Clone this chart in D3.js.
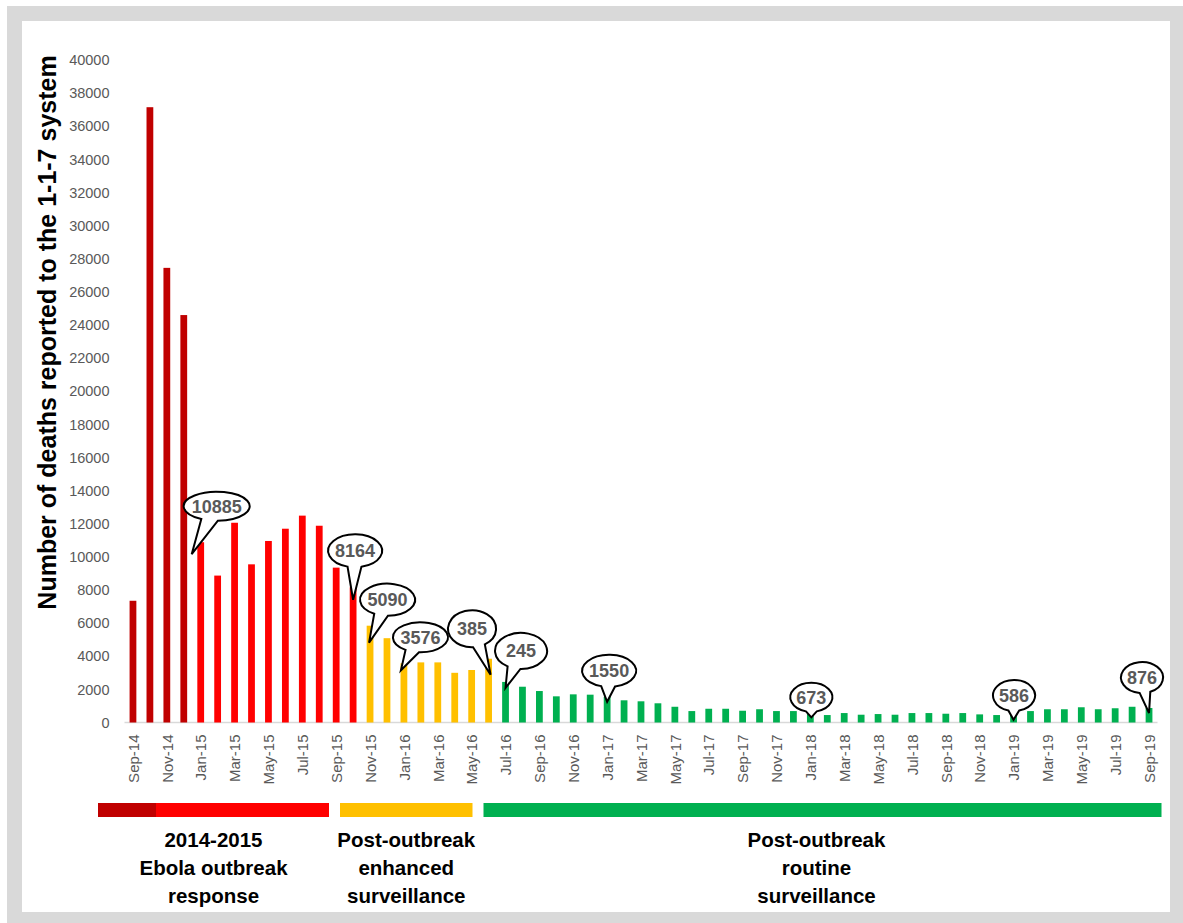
<!DOCTYPE html>
<html>
<head>
<meta charset="utf-8">
<script src="https://cdn.jsdelivr.net/npm/d3@7"></script>
<style>
  html, body { margin: 0; padding: 0; background: #ffffff; }
  svg { display: block; font-family: "Liberation Sans", Arial, sans-serif; }
</style>
</head>
<body>
<svg id="chart" width="1183" height="923"></svg>
<script>
// Monthly deaths reported to the 1-1-7 system, Sep 2014 – Sep 2019
const months = [
  "Sep-14","Oct-14","Nov-14","Dec-14",
  "Jan-15","Feb-15","Mar-15","Apr-15","May-15","Jun-15","Jul-15","Aug-15","Sep-15","Oct-15","Nov-15","Dec-15",
  "Jan-16","Feb-16","Mar-16","Apr-16","May-16","Jun-16","Jul-16","Aug-16","Sep-16","Oct-16","Nov-16","Dec-16",
  "Jan-17","Feb-17","Mar-17","Apr-17","May-17","Jun-17","Jul-17","Aug-17","Sep-17","Oct-17","Nov-17","Dec-17",
  "Jan-18","Feb-18","Mar-18","Apr-18","May-18","Jun-18","Jul-18","Aug-18","Sep-18","Oct-18","Nov-18","Dec-18",
  "Jan-19","Feb-19","Mar-19","Apr-19","May-19","Jun-19","Jul-19","Aug-19","Sep-19"
];

const deaths = [
  7350, 37150, 27450, 24600,
  10885, 8870, 12060, 9550, 10960, 11700, 12490, 11880, 9350, 8164, 5845, 5090,
  3576, 3630, 3630, 3000, 3170, 3850, 2450, 2160, 1900, 1580, 1700, 1680,
  1550, 1340, 1280, 1160, 950, 690, 830, 830, 710, 800, 690, 690,
  673, 450, 570, 470, 510, 470, 570, 570, 530, 570, 490, 450,
  586, 690, 800, 800, 920, 800, 860, 950, 876
];

// Reporting phases (first and last month of each)
const phaseStart = ["Sep-14", "Jan-15", "Nov-15", "Jul-16"];
const phaseEnd   = ["Dec-14", "Oct-15", "Jun-16", "Sep-19"];

// Captions under the phase strip
const phaseCaptions = [
  ["2014-2015", "Ebola outbreak", "response"],
  ["Post-outbreak", "enhanced", "surveillance"],
  ["Post-outbreak", "routine", "surveillance"]
];

// Annotated months and their callout text
const calloutMonths = ["Jan-15","Oct-15","Nov-15","Jan-16","Jun-16","Jul-16","Jan-17","Jan-18","Jan-19","Sep-19"];
const calloutTexts  = ["10885","8164","5090","3576","385","245","1550","673","586","876"];

// Axis tick labels
const yTicks = [0,2000,4000,6000,8000,10000,12000,14000,16000,18000,20000,22000,24000,26000,28000,30000,32000,34000,36000,38000,40000];
const xTickLabels = [
  "Sep-14","Nov-14","Jan-15","Mar-15","May-15","Jul-15","Sep-15","Nov-15","Jan-16","Mar-16","May-16","Jul-16",
  "Sep-16","Nov-16","Jan-17","Mar-17","May-17","Jul-17","Sep-17","Nov-17","Jan-18","Mar-18","May-18","Jul-18",
  "Sep-18","Nov-18","Jan-19","Mar-19","May-19","Jul-19","Sep-19"
];

// ---- styling ----
const phaseColors = ["#C00000", "#FF0000", "#FFC000", "#00B050"];
const tickGray = "#595959";

const svg = d3.select("#chart");
const W = 1183, H = 923;

// frame
svg.append("rect").attr("x", 7).attr("y", 6).attr("width", W - 7).attr("height", H - 6).attr("fill", "#d9d9d9");
svg.append("rect").attr("x", 22).attr("y", 21).attr("width", 1148).attr("height", 891).attr("fill", "#ffffff");

const plot = { left: 124.5, right: 1157.5, top: 60, bottom: 722.5 };

const x = d3.scalePoint().domain(months).range([plot.left, plot.right]).padding(0.5);
const y = d3.scaleLinear().domain([0, 40000]).range([plot.bottom, plot.top]);
const barW = x.step() * 0.4;

const phaseIndex = m => {
  const i = months.indexOf(m);
  for (let p = 0; p < phaseStart.length; p++) {
    if (i >= months.indexOf(phaseStart[p]) && i <= months.indexOf(phaseEnd[p])) return p;
  }
  return 0;
};

// y axis (labels only)
const yAxis = d3.axisLeft(y).tickValues(yTicks).tickSize(0).tickPadding(15).tickFormat(d3.format("d"));
const gy = svg.append("g").attr("transform", `translate(${plot.left},0)`).call(yAxis);
gy.select(".domain").remove();
gy.selectAll("text").attr("fill", tickGray).style("font-size", "14.5px").style("font-family", "'Liberation Sans', Arial, sans-serif");

// baseline
svg.append("line")
  .attr("x1", plot.left).attr("x2", plot.right)
  .attr("y1", y(0)).attr("y2", y(0))
  .attr("stroke", "#d9d9d9").attr("stroke-width", 1.5);

// bars
svg.append("g").selectAll("rect")
  .data(months.map((m, i) => ({ m, v: deaths[i] })))
  .join("rect")
  .attr("x", d => x(d.m) - barW / 2)
  .attr("width", barW)
  .attr("y", d => y(d.v))
  .attr("height", d => y(0) - y(d.v))
  .attr("fill", d => phaseColors[phaseIndex(d.m)]);

// x axis (rotated labels)
const xAxis = d3.axisBottom(x).tickValues(xTickLabels).tickSize(0);
const gx = svg.append("g").attr("transform", `translate(0,${y(0)})`).call(xAxis);
gx.select(".domain").remove();
gx.selectAll("text")
  .attr("fill", tickGray)
  .style("font-size", "15px")
  .style("font-family", "'Liberation Sans', Arial, sans-serif")
  .attr("text-anchor", "end")
  .attr("transform", "rotate(-90)")
  .attr("x", -12)
  .attr("y", 0)
  .attr("dy", "0.35em");

// y axis title
svg.append("text")
  .attr("transform", `translate(47,${(55 + 610) / 2}) rotate(-90)`)
  .attr("text-anchor", "middle")
  .attr("dy", "0.35em")
  .style("font-size", "25px")
  .style("font-weight", "bold")
  .attr("fill", "#000")
  .text("Number of deaths reported to the 1-1-7 system");

// ---- callouts ----
// bubble centre offset, radii and tail tip offset relative to the bar top
const bubbleLayout = {
  "Jan-15": { dx: 16,   dy: -36,  rx: 33,   ry: 14.5, tx: -9, ty: 12 },
  "Oct-15": { dx: 2,    dy: -36.5,rx: 27,   ry: 16.5, tx: 0,  ty: 12.5 },
  "Nov-15": { dx: 17.5, dy: -26,  rx: 27.5, ry: 16,   tx: -1, ty: 17 },
  "Jan-16": { dx: 16.5, dy: -26,  rx: 27.5, ry: 15,   tx: -3, ty: 7 },
  "Jun-16": { dx: -16.5,dy: -30,  rx: 24,   ry: 18.5, tx: 2,  ty: 16 },
  "Jul-16": { dx: 15.5, dy: -31,  rx: 26,   ry: 18,   tx: 0,  ty: 6 },
  "Jan-17": { dx: 2,    dy: -26,  rx: 27,   ry: 16,   tx: 0,  ty: 5 },
  "Jan-18": { dx: 1,    dy: -14,  rx: 21,   ry: 14.5, tx: 1,  ty: 6 },
  "Jan-19": { dx: 0.5,  dy: -17.3,rx: 21,   ry: 15.5, tx: 0,  ty: 7 },
  "Sep-19": { dx: -7,   dy: -30.5,rx: 21,   ry: 15.5, tx: 0,  ty: 5 }
};

function calloutPath(cx, cy, rx, ry, tx, ty) {
  const theta = Math.atan2((ty - cy) / ry, (tx - cx) / rx);
  const spread = 0.26;
  const a1 = theta + spread, a2 = theta - spread;
  const p1 = [cx + rx * Math.cos(a1), cy + ry * Math.sin(a1)];
  const p2 = [cx + rx * Math.cos(a2), cy + ry * Math.sin(a2)];
  return `M${p1[0]},${p1[1]} A${rx},${ry} 0 1 1 ${p2[0]},${p2[1]} L${tx},${ty} Z`;
}

const gc = svg.append("g");
calloutMonths.forEach((m, i) => {
  const L = bubbleLayout[m];
  const bx = x(m), by = y(deaths[months.indexOf(m)]);
  const cx = bx + L.dx, cy = by + L.dy;
  const tx = bx + L.tx, ty = by + L.ty;
  gc.append("path")
    .attr("d", calloutPath(cx, cy, L.rx, L.ry, tx, ty))
    .attr("fill", "#ffffff")
    .attr("stroke", "#000")
    .attr("stroke-width", 2)
    .attr("stroke-linejoin", "miter");
  gc.append("text")
    .attr("x", cx).attr("y", cy)
    .attr("dy", "0.36em")
    .attr("text-anchor", "middle")
    .attr("fill", tickGray)
    .style("font-size", "18px")
    .style("font-weight", "bold")
    .text(calloutTexts[i]);
});

// ---- phase strip ----
// strip layout: month boundaries mapped onto the strip, with gaps between the three periods
const stripX = d3.scaleLinear()
  .domain([0, months.indexOf("Jan-15"), months.indexOf("Nov-15"), months.indexOf("Jul-16"), months.length])
  .range([98, 156, 334.5, 478, 1161.5]);
const gap = 5.5;
const stripTop = 803, stripH = 14;

phaseStart.forEach((s, p) => {
  const i0 = months.indexOf(s), i1 = months.indexOf(phaseEnd[p]) + 1;
  let x0 = stripX(i0), x1 = stripX(i1);
  if (p >= 2) x0 += gap;
  if (p === 1 || p === 2) x1 -= gap;
  svg.append("rect")
    .attr("x", x0).attr("y", stripTop)
    .attr("width", x1 - x0).attr("height", stripH)
    .attr("fill", phaseColors[p]);
});

// captions: first caption spans the two outbreak-response segments
const captionSpans = [
  [stripX(0), stripX(months.indexOf("Nov-15")) - gap],
  [stripX(months.indexOf("Nov-15")) + gap, stripX(months.indexOf("Jul-16")) - gap],
  [stripX(months.indexOf("Jul-16")) + gap, stripX(months.length)]
];
phaseCaptions.forEach((lines, k) => {
  const cxm = (captionSpans[k][0] + captionSpans[k][1]) / 2 - (k === 2 ? 6 : 0);
  const t = svg.append("text")
    .attr("text-anchor", "middle")
    .attr("fill", "#000")
    .style("font-size", "20.5px")
    .style("font-weight", "bold");
  lines.forEach((ln, j) => {
    t.append("tspan").attr("x", cxm).attr("y", 840 + j * 28).attr("dy", "0.36em").text(ln);
  });
});
</script>
</body>
</html>
